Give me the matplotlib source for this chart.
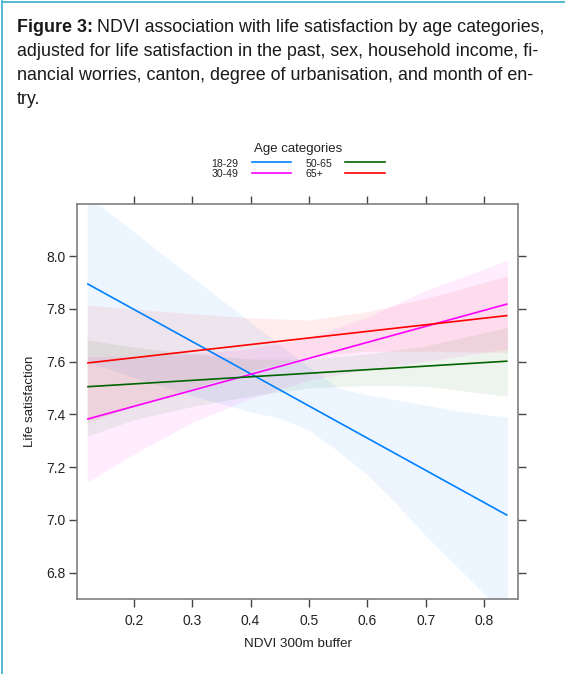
import matplotlib
matplotlib.use("Agg")
import matplotlib.pyplot as plt
from matplotlib.lines import Line2D

plt.rcParams['font.family'] = ['Liberation Sans', 'DejaVu Sans']

# Fitted lines (endpoints of the linear effect for each age group)
line_x = [0.12, 0.84]
line_1829 = [7.896, 7.017]
line_3049 = [7.382, 7.819]
line_5065 = [7.505, 7.602]
line_65p = [7.595, 7.775]

# Confidence band of the 18-29 group, read at several NDVI values
blue_x = [0.12, 0.2, 0.3, 0.4, 0.45, 0.5, 0.55, 0.6, 0.65, 0.7, 0.75, 0.8, 0.84]
lo_1829 = [7.60, 7.54, 7.47, 7.41, 7.385, 7.34, 7.26, 7.17, 7.06, 6.94, 6.83, 6.72, 6.62]
hi_1829 = [8.23, 8.093, 7.92, 7.75, 7.665, 7.58, 7.50, 7.475, 7.455, 7.435, 7.415, 7.40, 7.39]

# Confidence bands of the other groups
band_x = [0.12, 0.2, 0.3, 0.4, 0.5, 0.6, 0.7, 0.84]
lo_3049 = [7.143, 7.25, 7.37, 7.46, 7.53, 7.57, 7.60, 7.65]
hi_3049 = [7.62, 7.62, 7.63, 7.65, 7.69, 7.77, 7.87, 7.985]
lo_5065 = [7.317, 7.38, 7.43, 7.47, 7.50, 7.51, 7.507, 7.469]
hi_5065 = [7.683, 7.655, 7.63, 7.61, 7.61, 7.63, 7.66, 7.73]
lo_65p = [7.37, 7.43, 7.50, 7.565, 7.62, 7.64, 7.64, 7.635]
hi_65p = [7.815, 7.80, 7.782, 7.766, 7.758, 7.79, 7.84, 7.925]

labels = ['18-29', '30-49', '50-65', '65+']
colors = ['#0080ff', '#ff00ff', '#006400', '#ff0000']

x_ticks = [0.2, 0.3, 0.4, 0.5, 0.6, 0.7, 0.8]
y_ticks = [6.8, 7.0, 7.2, 7.4, 7.6, 7.8, 8.0]

W, H = 565, 674
fig = plt.figure(figsize=(W / 100, H / 100), dpi=100)

# figure frame (top and left border)
fig.add_artist(Line2D([1.5 / W, 1.5 / W], [0, 1 - 1.0 / H], transform=fig.transFigure,
                      color='#45b5cf', lw=1.3))
fig.add_artist(Line2D([1.5 / W, 1], [1 - 1.5 / H, 1 - 1.5 / H], transform=fig.transFigure,
                      color='#45b5cf', lw=1.3))

ax = fig.add_axes([77 / W, 1 - 599 / H, (518 - 77) / W, (599 - 204) / H])

band_xs = [blue_x, band_x, band_x, band_x]
lows = [lo_1829, lo_3049, lo_5065, lo_65p]
highs = [hi_1829, hi_3049, hi_5065, hi_65p]
lines = [line_1829, line_3049, line_5065, line_65p]
for bx, lo, hi, c in zip(band_xs, lows, highs, colors):
    ax.fill_between(bx, lo, hi, color=c, alpha=0.07, lw=0)
for ys, c in zip(lines, colors):
    ax.plot(line_x, ys, color=c, lw=1.2, solid_capstyle='butt')

ax.set_xlim(0.1026, 0.858)
ax.set_ylim(6.70, 8.198)
ax.set_xticks(x_ticks)
ax.set_xticklabels([f'{v:.1f}' for v in x_ticks])
ax.set_yticks(y_ticks)
ax.set_yticklabels([f'{v:.1f}' for v in y_ticks])
ax.tick_params(axis='both', direction='out', length=6, width=1, color='#444444',
               labelsize=10, labelcolor='#222222', top=True, right=True)
ax.tick_params(axis='x', pad=5)
ax.tick_params(axis='y', pad=2.5)
for s in ax.spines.values():
    s.set_color('#7f7f7f')
    s.set_linewidth(1.2)

ax.set_xlabel('NDVI 300m buffer', fontsize=9.7, color='#222222', labelpad=7)
ax.set_ylabel('Life satisfaction', fontsize=9.5, color='#222222', labelpad=7)

# legend drawn above the panel
fig.text(298 / W, 1 - 152 / H, 'Age categories', fontsize=9.5, ha='center', va='baseline', color='#222222')
leg_pos = [(238.5, 252, 291, 166.7, 162.3), (238.5, 252, 291, 176.7, 172.7),
           (None, 345, 384.5, 166.7, 162.3), (None, 345, 384.5, 176.7, 172.7)]
for lab, c, (tx, x0, x1, yb, yl) in zip(labels, colors, leg_pos):
    if tx is not None:
        fig.text(tx / W, 1 - yb / H, lab, fontsize=7.6, ha='right', va='baseline', color='#222222')
    else:
        fig.text(306 / W, 1 - yb / H, lab, fontsize=7.6, ha='left', va='baseline', color='#222222')
    fig.add_artist(Line2D([x0 / W, x1 / W], [1 - yl / H, 1 - yl / H], transform=fig.transFigure,
                          color=c, lw=1.2))

# caption
cap_size = 12.9
baselines = [31.7, 55.9, 80.1, 104.3]
fig.canvas.draw()
bold = fig.text(17 / W, 1 - baselines[0] / H, 'Figure 3:', fontsize=cap_size, fontweight='bold',
                ha='left', va='baseline', color='#1a1a1a')
bb = bold.get_window_extent(renderer=fig.canvas.get_renderer())
fig.text(bb.x1 / W + 4 / W, 1 - baselines[0] / H,
         'NDVI association with life satisfaction by age categories,',
         fontsize=cap_size, ha='left', va='baseline', color='#1a1a1a')
rest = ['adjusted for life satisfaction in the past, sex, household income, fi-',
        'nancial worries, canton, degree of urbanisation, and month of en-',
        'try.']
for t, b in zip(rest, baselines[1:]):
    fig.text(17 / W, 1 - b / H, t, fontsize=cap_size, ha='left', va='baseline', color='#1a1a1a')

fig.savefig('out.png', dpi=100)
